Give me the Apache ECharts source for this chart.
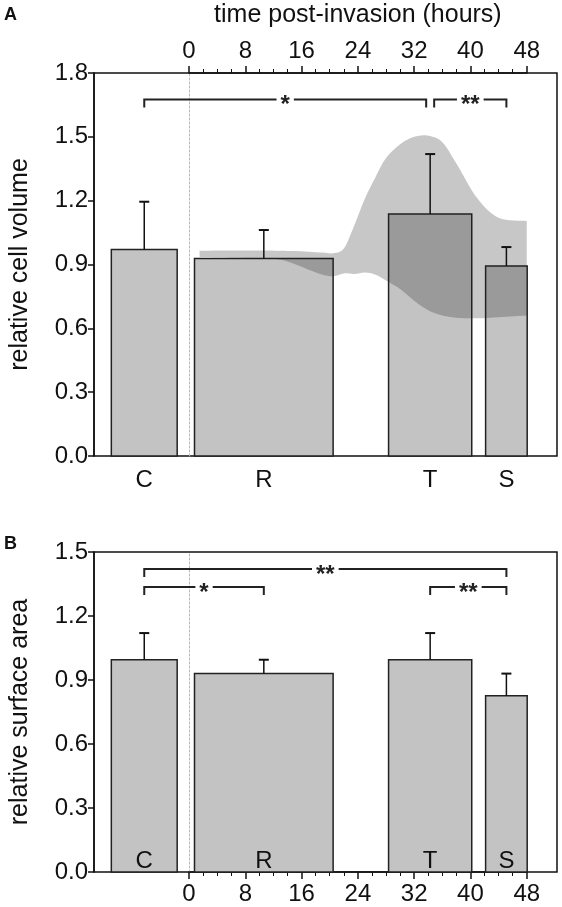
<!DOCTYPE html>
<html><head><meta charset="utf-8">
<script src="https://cdn.jsdelivr.net/npm/echarts@6/dist/echarts.min.js"></script>
<style>html,body{margin:0;padding:0;background:#fff}#c{width:562px;height:907px}</style>
</head><body><div id="c"></div>
<script>
// ---------- data ----------
const groups = ['C', 'R', 'T', 'S'];
const barStartHours = [-12, 0, 28, 42];
const barEndHours = [-2.5, 20, 40, 48];
const volumeMean = [0.970, 0.928, 1.137, 0.893];
const volumeErrTop = [1.195, 1.062, 1.419, 0.982];
const areaMean = [0.995, 0.930, 0.995, 0.826];
const areaErrTop = [1.120, 0.995, 1.120, 0.930];

const bandHours = [1.5, 6, 10, 13, 15, 17, 19, 20.5, 22, 23.5, 25, 26.5, 28, 30, 32, 34, 36, 38, 41, 44, 48];
const bandUpper = [0.965, 0.966, 0.966, 0.965, 0.963, 0.960, 0.956, 0.953, 0.975, 1.085, 1.210, 1.310, 1.400, 1.465, 1.500, 1.505, 1.475, 1.375, 1.210, 1.120, 1.105];
const bandLower = [0.935, 0.932, 0.930, 0.922, 0.902, 0.875, 0.852, 0.845, 0.858, 0.855, 0.862, 0.852, 0.825, 0.785, 0.730, 0.685, 0.660, 0.650, 0.647, 0.652, 0.660];

const volumeBracketFrom = [0, 2];
const volumeBracketTo = [2, 3];
const volumeBracketLevel = [1.675, 1.675];
const volumeBracketLabel = ['*', '**'];
const areaBracketFrom = [0, 0, 2];
const areaBracketTo = [3, 1, 3];
const areaBracketLevel = [1.42, 1.336, 1.336];
const areaBracketLabel = ['**', '*', '**'];

const volumeTicks = {min: 0, max: 1.8, interval: 0.3};
const areaTicks = {min: 0, max: 1.5, interval: 0.3};
const timeTicks = {min: 0, max: 48, interval: 8, minorSplit: 4};
const hourRange = {min: -14.5, max: 52.3};

// ---------- layout ----------
const FONT = '"Liberation Sans", Arial, Helvetica, sans-serif';
const INK = '#111';
const BAR_FILL = '#c3c3c3';
const BAND_FILL = 'rgba(30,30,30,0.25)';
const PL = 87, PR = 557;
const PW = PR - PL;
const tL = PL + (timeTicks.min - hourRange.min) / (hourRange.max - hourRange.min) * PW;
const tR = PL + (timeTicks.max - hourRange.min) / (hourRange.max - hourRange.min) * PW;
const A = {top: 73, height: 383};
const B = {top: 552, height: 320};

const centers = groups.map((g, i) => (barStartHours[i] + barEndHours[i]) / 2);

function barRenderer(labelDy) {
  return function (params, api) {
    const tl = api.coord([api.value(0), api.value(2)]);
    const br = api.coord([api.value(1), 0]);
    return {type: 'group', children: [
      {type: 'rect', shape: {x: tl[0], y: tl[1], width: br[0] - tl[0], height: br[1] - tl[1]},
        style: {fill: BAR_FILL, stroke: '#222', lineWidth: 1.5}},
      {type: 'text', style: {text: groups[api.value(3)], x: (tl[0] + br[0]) / 2, y: br[1] + labelDy,
        align: 'center', verticalAlign: 'middle', font: '24px ' + FONT, fill: INK}}
    ]};
  };
}
function errRenderer(params, api) {
  const c = api.coord([api.value(0), api.value(1)]);
  const t = api.coord([api.value(0), api.value(2)]);
  return {type: 'group', children: [
    {type: 'line', shape: {x1: c[0], y1: c[1], x2: t[0], y2: t[1]}, style: {stroke: INK, lineWidth: 1.5}},
    {type: 'line', shape: {x1: t[0] - 5, y1: t[1], x2: t[0] + 5, y2: t[1]}, style: {stroke: INK, lineWidth: 2}}
  ]};
}
function bracketRenderer(from, to, level, labels) {
  return function (params, api) {
    const i = params.dataIndex;
    const p0 = api.coord([api.value(0), api.value(2)]);
    const p1 = api.coord([api.value(1), api.value(2)]);
    let inL = 0, inR = 0;
    for (let j = 0; j < from.length; j++) {
      if (j === i || level[j] !== level[i]) continue;
      if (from[j] === to[i]) inR = 4;
      if (to[j] === from[i]) inL = 4;
    }
    const xL = p0[0] + inL, xR = p1[0] - inR, y = p0[1];
    return {type: 'group', children: [
      {type: 'polyline', shape: {points: [[xL, y + 8], [xL, y], [xR, y], [xR, y + 8]]},
        style: {stroke: '#222', lineWidth: 2, fill: 'none'}},
      {type: 'text', style: {text: labels[i], x: (xL + xR) / 2, y: y + 6, align: 'center', verticalAlign: 'middle',
        font: 'bold 24px ' + FONT, fill: '#222', backgroundColor: '#fff', padding: [0, 4]}}
    ]};
  };
}
// smooth path through pixel points (Catmull-Rom as cubic Bezier)
function curvePath(p) {
  let s = '';
  for (let i = 0; i < p.length - 1; i++) {
    const p0 = p[Math.max(i - 1, 0)], p1 = p[i], p2 = p[i + 1], p3 = p[Math.min(i + 2, p.length - 1)];
    const c1 = [p1[0] + (p2[0] - p0[0]) / 6, p1[1] + (p2[1] - p0[1]) / 6];
    const c2 = [p2[0] - (p3[0] - p1[0]) / 6, p2[1] - (p3[1] - p1[1]) / 6];
    s += ' C' + c1[0] + ' ' + c1[1] + ' ' + c2[0] + ' ' + c2[1] + ' ' + p2[0] + ' ' + p2[1];
  }
  return s;
}
function bandRenderer(params, api) {
  if (params.dataIndex !== 0) return null;
  const up = bandHours.map((h, i) => api.coord([h, bandUpper[i]]));
  const lo = bandHours.map((h, i) => api.coord([h, bandLower[i]])).reverse();
  const d = 'M' + up[0][0] + ' ' + up[0][1] + curvePath(up) +
            ' L' + lo[0][0] + ' ' + lo[0][1] + curvePath(lo) + ' Z';
  return {type: 'path', shape: {pathData: d}, style: {fill: BAND_FILL, stroke: null}};
}

const hiddenX = (gi) => ({type: 'value', gridIndex: gi, min: hourRange.min, max: hourRange.max, show: false});
const leftY = (gi, t, name) => ({
  type: 'value', gridIndex: gi, min: t.min, max: t.max, interval: t.interval, position: 'left',
  axisLine: {show: true, onZero: false, lineStyle: {color: INK, width: 1.5}},
  axisTick: {show: true, inside: false, length: 6, lineStyle: {color: INK, width: 1.5}},
  axisLabel: {fontSize: 24, fontFamily: FONT, color: INK, margin: 6, formatter: v => v.toFixed(1)},
  splitLine: {show: false},
  name: name, nameLocation: 'middle', nameGap: 61, nameRotate: 90,
  nameTextStyle: {fontSize: 25, fontFamily: FONT, color: INK}
});
const dottedY = (gi, t) => ({
  type: 'value', gridIndex: gi, min: t.min, max: t.max, position: 'left',
  axisLine: {show: true, onZero: false, lineStyle: {color: '#b8b8b8', width: 1, type: [2, 2]}},
  axisTick: {show: false}, axisLabel: {show: false}, splitLine: {show: false}
});
const timeX = (gi, pos, name) => ({
  type: 'value', gridIndex: gi, position: pos, min: timeTicks.min, max: timeTicks.max, interval: timeTicks.interval,
  axisLine: {show: true, onZero: false, lineStyle: {color: INK, width: 1.5}},
  axisTick: {show: true, inside: false, length: 7, lineStyle: {color: INK, width: 1.5}},
  minorTick: {show: true, splitNumber: timeTicks.minorSplit, length: 4, lineStyle: {color: INK, width: 1}},
  axisLabel: {fontSize: 24, fontFamily: FONT, color: INK, margin: 10},
  splitLine: {show: false},
  name: name, nameLocation: 'middle', nameGap: 45,
  nameTextStyle: {fontSize: 25, fontFamily: FONT, color: INK}
});

const chart = echarts.init(document.getElementById('c'), null, {renderer: 'canvas'});
chart.setOption({
  animation: false,
  backgroundColor: '#fff',
  grid: [
    {left: PL, width: PW, top: A.top, height: A.height, show: true, borderColor: INK, borderWidth: 1.5, containLabel: false},
    {left: tL, width: tR - tL, top: A.top, height: A.height, containLabel: false},
    {left: PL, width: PW, top: B.top, height: B.height, show: true, borderColor: INK, borderWidth: 1.5, containLabel: false},
    {left: tL, width: tR - tL, top: B.top, height: B.height, containLabel: false}
  ],
  xAxis: [hiddenX(0), timeX(1, 'top', 'time post-invasion (hours)'), hiddenX(2), timeX(3, 'bottom', '')],
  yAxis: [leftY(0, volumeTicks, 'relative cell volume'), dottedY(1, volumeTicks),
          leftY(2, areaTicks, 'relative surface area'), dottedY(3, areaTicks)],
  graphic: [
    {type: 'text', left: 4, top: 6, style: {text: 'A', font: 'bold 18px ' + FONT, fill: INK}},
    {type: 'text', left: 4, top: 535, style: {text: 'B', font: 'bold 18px ' + FONT, fill: INK}}
  ],
  series: [
    // Panel A
    {type: 'custom', xAxisIndex: 0, yAxisIndex: 0, z: 2, renderItem: barRenderer(24),
      encode: {x: [0, 1], y: 2},
      data: groups.map((g, i) => [barStartHours[i], barEndHours[i], volumeMean[i], i])},
    {type: 'custom', xAxisIndex: 1, yAxisIndex: 1, z: 3, renderItem: bandRenderer, silent: true,
      encode: {x: 0, y: [1, 2]},
      data: bandHours.map((h, i) => [h, bandLower[i], bandUpper[i]])},
    {type: 'custom', xAxisIndex: 0, yAxisIndex: 0, z: 4, renderItem: errRenderer,
      data: groups.map((g, i) => [centers[i], volumeMean[i], volumeErrTop[i]])},
    {type: 'custom', xAxisIndex: 0, yAxisIndex: 0, z: 5,
      renderItem: bracketRenderer(volumeBracketFrom, volumeBracketTo, volumeBracketLevel, volumeBracketLabel),
      data: volumeBracketFrom.map((f, i) => [centers[f], centers[volumeBracketTo[i]], volumeBracketLevel[i]])},
    // Panel B
    {type: 'custom', xAxisIndex: 2, yAxisIndex: 2, z: 2, renderItem: barRenderer(-11),
      encode: {x: [0, 1], y: 2},
      data: groups.map((g, i) => [barStartHours[i], barEndHours[i], areaMean[i], i])},
    {type: 'custom', xAxisIndex: 2, yAxisIndex: 2, z: 4, renderItem: errRenderer,
      data: groups.map((g, i) => [centers[i], areaMean[i], areaErrTop[i]])},
    {type: 'custom', xAxisIndex: 2, yAxisIndex: 2, z: 5,
      renderItem: bracketRenderer(areaBracketFrom, areaBracketTo, areaBracketLevel, areaBracketLabel),
      data: areaBracketFrom.map((f, i) => [centers[f], centers[areaBracketTo[i]], areaBracketLevel[i]])}
  ]
});
</script></body></html>
